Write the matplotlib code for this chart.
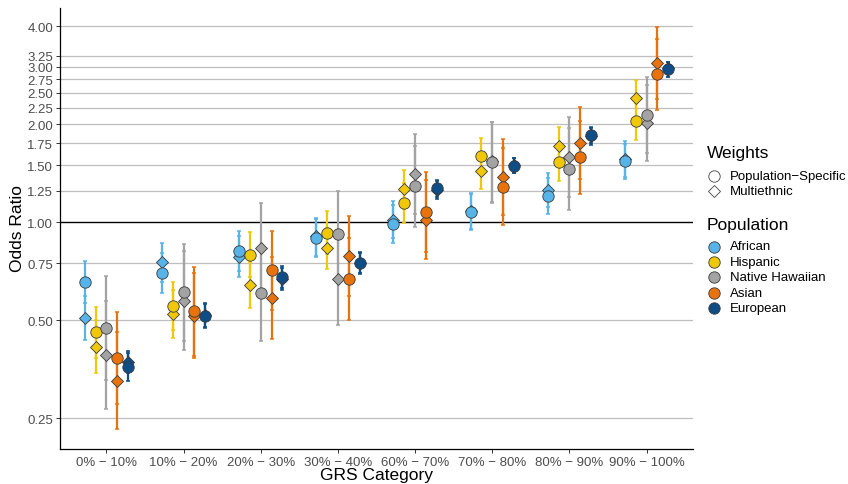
import numpy as np
import matplotlib
matplotlib.use("Agg")
import matplotlib.pyplot as plt
from matplotlib.ticker import FixedLocator, FixedFormatter, NullLocator

plt.rcParams['font.family'] = ['Liberation Sans', 'DejaVu Sans']

categories = ["0% \u2212 10%", "10% \u2212 20%", "20% \u2212 30%", "30% \u2212 40%",
              "60% \u2212 70%", "70% \u2212 80%", "80% \u2212 90%", "90% \u2212 100%"]
populations = ["African", "Hispanic", "Native Hawaiian", "Asian", "European"]
pop_colors = ["#56B4E9", "#F0C808", "#A3A3A3", "#E8720C", "#0E4D85"]
weights = ["Population\u2212Specific", "Multiethnic"]
y_ticks = [0.25, 0.50, 0.75, 1.00, 1.25, 1.50, 1.75, 2.00, 2.25, 2.50, 2.75, 3.00, 3.25, 4.00]

# Odds ratios; rows = GRS category, columns = population (order as above)
or_pop = [
    [0.657, 0.459, 0.474, 0.384, 0.360],
    [0.699, 0.552, 0.610, 0.533, 0.517],
    [0.815, 0.795, 0.607, 0.714, 0.678],
    [0.895, 0.929, 0.921, 0.670, 0.748],
    [0.988, 1.146, 1.290, 1.075, 1.272],
    [1.078, 1.598, 1.535, 1.287, 1.493],
    [1.207, 1.529, 1.458, 1.584, 1.858],
    [1.539, 2.043, 2.136, 2.849, 2.958],
]
lo_pop = [
    [0.566, 0.383, 0.329, 0.277, 0.326],
    [0.607, 0.466, 0.432, 0.390, 0.473],
    [0.707, 0.678, 0.433, 0.540, 0.627],
    [0.781, 0.799, 0.678, 0.501, 0.694],
    [0.862, 0.993, 0.967, 0.812, 1.195],
    [0.947, 1.405, 1.146, 0.981, 1.417],
    [1.061, 1.337, 1.091, 1.222, 1.750],
    [1.355, 1.794, 1.629, 2.218, 2.789],
]
hi_pop = [
    [0.762, 0.550, 0.685, 0.531, 0.398],
    [0.805, 0.654, 0.860, 0.727, 0.562],
    [0.938, 0.932, 0.850, 0.943, 0.732],
    [1.025, 1.081, 1.250, 0.894, 0.806],
    [1.133, 1.323, 1.719, 1.424, 1.352],
    [1.226, 1.819, 2.030, 1.689, 1.575],
    [1.373, 1.748, 1.948, 2.052, 1.966],
    [1.745, 2.328, 2.801, 3.658, 3.100],
]
or_multi = [
    [0.508, 0.415, 0.391, 0.326, 0.373],
    [0.754, 0.523, 0.574, 0.517, 0.519],
    [0.784, 0.642, 0.832, 0.585, 0.669],
    [0.905, 0.832, 0.670, 0.788, 0.752],
    [1.019, 1.263, 1.407, 1.019, 1.260],
    [1.085, 1.441, 1.540, 1.381, 1.495],
    [1.260, 1.719, 1.584, 1.752, 1.845],
    [1.565, 2.404, 2.014, 3.086, 2.971],
]
lo_multi = [
    [0.435, 0.344, 0.267, 0.232, 0.345],
    [0.657, 0.441, 0.405, 0.383, 0.477],
    [0.678, 0.545, 0.605, 0.438, 0.619],
    [0.790, 0.719, 0.485, 0.595, 0.697],
    [0.895, 1.100, 1.063, 0.772, 1.179],
    [0.953, 1.266, 1.155, 1.057, 1.420],
    [1.117, 1.511, 1.193, 1.355, 1.728],
    [1.380, 2.107, 1.539, 2.398, 2.800],
]
hi_multi = [
    [0.593, 0.500, 0.573, 0.459, 0.403],
    [0.864, 0.619, 0.814, 0.697, 0.564],
    [0.907, 0.755, 1.144, 0.783, 0.722],
    [1.029, 0.964, 0.925, 1.043, 0.809],
    [1.160, 1.451, 1.864, 1.345, 1.340],
    [1.233, 1.640, 2.040, 1.803, 1.579],
    [1.420, 1.958, 2.101, 2.265, 1.952],
    [1.773, 2.742, 2.636, 3.972, 3.114],
]

W, H = 848, 485
fig = plt.figure(figsize=(W / 100, H / 100), dpi=100)
ax = fig.add_axes([60 / W, 1 - 450 / H, 633 / W, 441 / H])

n_cat = len(categories)
n_pop = len(populations)
dodge = 0.7
offsets = (np.arange(n_pop) - (n_pop - 1) / 2) * dodge / n_pop
xc = np.arange(n_cat)

edge = "#3a3a3a"

# error bars first
for j, col in enumerate(pop_colors):
    x = xc + offsets[j]
    for o, lo, hi in ((or_multi, lo_multi, hi_multi), (or_pop, lo_pop, hi_pop)):
        y = np.array([r[j] for r in o])
        yl = np.array([r[j] for r in lo])
        yh = np.array([r[j] for r in hi])
        ax.errorbar(x, y, yerr=[y - yl, yh - y], fmt='none', ecolor=col,
                    elinewidth=1.6, capsize=1.4, capthick=1.1, zorder=3)

# points: diamonds (multiethnic weights), then circles (population-specific)
for j, col in enumerate(pop_colors):
    x = xc + offsets[j]
    y = [r[j] for r in or_multi]
    ax.plot(x, y, linestyle='none', marker='D', ms=6.4, mfc=col, mec=edge,
            mew=0.6, zorder=4)
for j, col in enumerate(pop_colors):
    x = xc + offsets[j]
    y = [r[j] for r in or_pop]
    ax.plot(x, y, linestyle='none', marker='o', ms=8.2, mfc=col, mec=edge,
            mew=0.6, zorder=5)

ax.set_yscale('log', base=2)
ax.set_ylim(0.2014, 4.553)
ax.set_xlim(-0.6, n_cat - 0.4)
ax.yaxis.set_major_locator(FixedLocator(y_ticks))
ax.yaxis.set_major_formatter(FixedFormatter([f"{v:.2f}" for v in y_ticks]))
ax.yaxis.set_minor_locator(NullLocator())
ax.set_xticks(xc)
ax.set_xticklabels(categories)

for v in y_ticks:
    if v != 1.0:
        ax.axhline(v, color="#BEBEBE", lw=0.9, zorder=1)
ax.axhline(1.0, color="black", lw=1.0, zorder=2)

for s in ("top", "right"):
    ax.spines[s].set_visible(False)
for s in ("left", "bottom"):
    ax.spines[s].set_color("black")
    ax.spines[s].set_linewidth(0.9)
ax.tick_params(axis='both', which='major', length=3, width=0.7, color="#333333",
               labelcolor="#4D4D4D", labelsize=9.5, pad=2)

# axis titles placed in pixel coordinates
fig.text(376 / W, 1 - 476 / H, "GRS Category", fontsize=12.5, ha='center', va='center')
fig.text(18 / W, 1 - 229 / H, "Odds Ratio", fontsize=12.5, ha='center', va='center',
         rotation=90)

# legend drawn in pixel coordinates on an overlay
lg = fig.add_axes([0, 0, 1, 1], facecolor='none')
lg.set_xlim(0, W)
lg.set_ylim(H, 0)
lg.axis('off')

lg.text(707, 154, "Weights", fontsize=12.5, va='center', ha='left')
for k, (lab, mk, ms) in enumerate(zip(weights, ['o', 'D'], [8.2, 6.4])):
    yy = 177 + k * 15
    lg.plot([713.5], [yy], marker=mk, ms=ms, mfc='white', mec="#444444", mew=0.6)
    lg.text(730, yy, lab, fontsize=9.5, va='center', ha='left')

lg.text(707, 226, "Population", fontsize=12.5, va='center', ha='left')
for k, (lab, col) in enumerate(zip(populations, pop_colors)):
    yy = 247.5 + k * 15.4
    lg.plot([713.5], [yy], marker='o', ms=8.2, mfc=col, mec=edge, mew=0.6)
    lg.text(730, yy, lab, fontsize=9.5, va='center', ha='left')

fig.savefig("out.png", dpi=100)
